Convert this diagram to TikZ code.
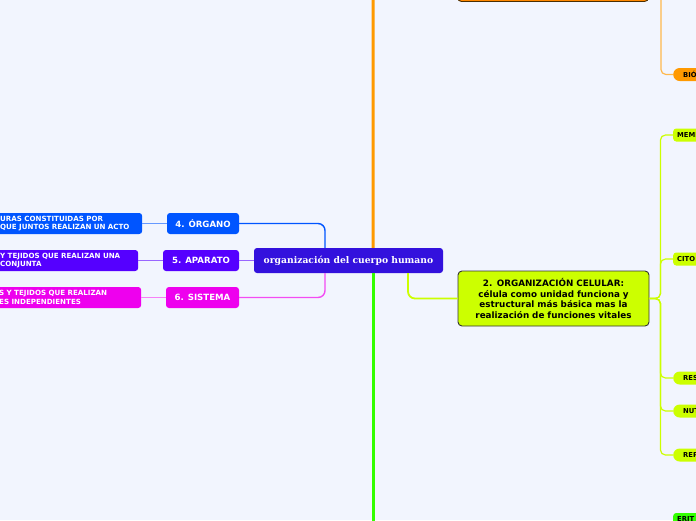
\documentclass[tikz,border=0pt]{standalone}
\usepackage{fontspec}
\usepackage{tikz}
\newfontfamily\mapsans{DejaVu Sans}
\newfontfamily\mapserif{DejaVu Serif}
\definecolor{paper}{HTML}{F2F5FE}
\definecolor{rootblue}{HTML}{3311DD}
\definecolor{organocol}{HTML}{0055FF}
\definecolor{aparatocol}{HTML}{5500FF}
\definecolor{sistemacol}{HTML}{EE00EE}
\definecolor{celularcol}{HTML}{CCFF00}
\definecolor{naranja}{HTML}{FF9900}
\definecolor{naranjabox}{HTML}{FF8800}
\definecolor{verde}{HTML}{33FF00}

\begin{document}
\begin{tikzpicture}[x=1pt, y=-1pt,
  root/.style={rectangle, rounded corners=3pt, fill=rootblue, text=white,
               minimum width=189pt, minimum height=25pt,
               font=\mapserif\bfseries\fontsize{9.2}{11}\selectfont},
  topic/.style={rectangle, rounded corners=3pt, text=white, minimum height=21pt,
                inner xsep=2pt, font=\mapsans\bfseries\fontsize{8.6}{10}\selectfont},
  note/.style={rectangle, rounded corners=3pt, text=white, minimum height=21pt,
               inner xsep=4pt, inner ysep=2pt, text width=138pt, align=left,
               anchor=west, font=\mapsans\bfseries\fontsize{7.1}{8.6}\selectfont},
  bigbox/.style={rectangle, rounded corners=4pt, draw=black!80, line width=0.9pt,
                 minimum width=191pt, minimum height=55pt, text width=183pt,
                 align=center, font=\mapsans\bfseries\fontsize{8.8}{10.6}\selectfont},
  tag/.style={rectangle, rounded corners=3pt, fill=celularcol, minimum height=13pt,
              minimum width=40pt, inner xsep=4pt, inner ysep=0pt, anchor=west,
              text width=32pt, align=left, font=\mapsans\bfseries\fontsize{6.8}{7}\selectfont},
  pill/.style={tag, rounded corners=6.5pt, inner xsep=10pt},
  link/.style={rounded corners=7pt, line width=1.4pt}
]
\useasboundingbox (0,0) rectangle (696,520);
\fill[paper] (0,0) rectangle (696,520);
\clip (0,0) rectangle (696,520);

\node[root] (root) at (348.5, 260.5) {organización del cuerpo humano};

\node[topic, fill=organocol, minimum width=72pt] (organo) at (203, 223.5) {4. ÓRGANO};
\node[topic, fill=aparatocol, minimum width=76pt] (aparato) at (201, 260.5) {5. APARATO};
\node[topic, fill=sistemacol, minimum width=73pt] (sistema) at (202.5, 297.5) {6. SISTEMA};

\node[note, fill=organocol] (organotxt) at (-4, 223.5)
  {URAS CONSTITUIDAS POR\\QUE JUNTOS REALIZAN UN ACTO};
\node[note, fill=aparatocol, text width=134pt] (aparatotxt) at (-4, 260.5)
  {Y TEJIDOS QUE REALIZAN UNA\\CONJUNTA};
\node[note, fill=sistemacol] (sistematxt) at (-5, 297.5)
  {S Y TEJIDOS QUE REALIZAN\\ES INDEPENDIENTES};

\draw[link, organocol] ([xshift=-23.5pt]root.north) |- (organo.east);
\draw[link, aparatocol!60] (root.west) -- (aparato.east);
\draw[link, sistemacol!70] ([xshift=-23.5pt]root.south) |- (sistema.east);
\draw[organocol!60, line width=1.2pt] (organo.west) -- (organotxt.east);
\draw[aparatocol!60, line width=1.2pt] (aparato.west) -- (aparatotxt.east);
\draw[sistemacol!50, line width=1.2pt] (sistema.west) -- (sistematxt.east);

\node[bigbox, fill=naranjabox, draw=black!70!naranja] (origen) at (553, -26) {};
\node[bigbox, fill=celularcol] (celular) at (553.5, 298.5)
  {2. ORGANIZACIÓN CELULAR:\\célula como unidad funciona y\\estructural más básica mas la\\realización de funciones vitales};

\coordinate (abajo) at (373, 560);
\draw[naranja, line width=3pt, rounded corners=8pt] ([xshift=24.5pt]root.north) |- (origen.west);
\draw[verde, line width=3pt] ([xshift=24.5pt]root.south) -- (abajo);
\draw[link, celularcol, line width=1.8pt] ([xshift=59.5pt]root.south) |- (celular.west);

\node[pill, fill=naranja] (bio) at (673, 74.5) {BIÓ};
\draw[link, naranja!70, line width=1.2pt, rounded corners=5pt] (origen.east) -- ++(12,0) |- (bio.west);

\node[tag] (memb) at (673, 135) {MEMB};
\node[tag] (cito) at (673, 259) {CITO};
\node[pill] (res) at (673, 378) {RES};
\node[pill] (nut) at (673, 411) {NUT};
\node[pill] (rep) at (673, 455) {REP};
\foreach \hijo in {memb, cito, res, nut, rep}
  \draw[celularcol, line width=1.2pt, rounded corners=5pt] (celular.east) -- ++(11,0) |- (\hijo.west);

\node[tag, fill=verde] (erit) at (673, 519.5) {ERIT};
\end{tikzpicture}
\end{document}
